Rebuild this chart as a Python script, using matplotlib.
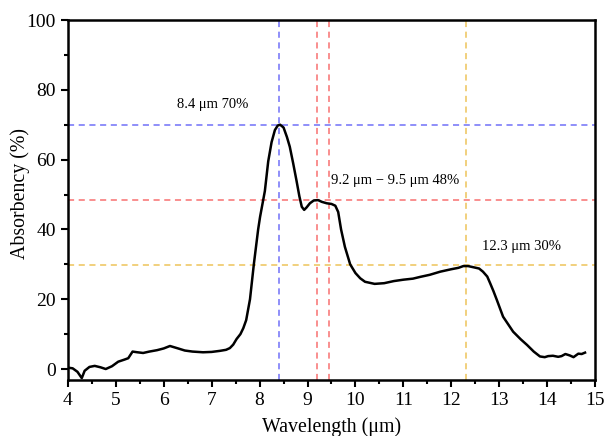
import matplotlib
matplotlib.use("Agg")
import matplotlib.pyplot as plt
from matplotlib.ticker import MultipleLocator

plt.rcParams['font.family'] = ['Liberation Serif', 'DejaVu Serif']
plt.rcParams['mathtext.fontset'] = 'stix'

# absorbency spectrum
wavelength = [4.0, 4.1, 4.2, 4.29, 4.35, 4.45, 4.56, 4.68, 4.79, 4.92, 5.05, 5.18, 5.26,
              5.35, 5.45, 5.57, 5.7, 5.86, 6.0, 6.13, 6.3, 6.44, 6.6, 6.82, 7.0, 7.17,
              7.3, 7.38, 7.45, 7.52, 7.6, 7.66, 7.72, 7.76, 7.8, 7.88, 7.97, 8.01, 8.11,
              8.18, 8.25, 8.32, 8.38, 8.43, 8.5, 8.57, 8.63, 8.7, 8.77, 8.83, 8.88, 8.93, 8.98,
              9.05, 9.13, 9.22, 9.3, 9.4, 9.5, 9.58, 9.64, 9.7, 9.78, 9.89, 10.0, 10.1,
              10.2, 10.4, 10.6, 10.8, 11.0, 11.2, 11.35, 11.55, 11.77, 12.0, 12.15, 12.25,
              12.35, 12.45, 12.58, 12.66, 12.75, 12.81, 12.88, 12.95, 13.08, 13.29, 13.45,
              13.58, 13.72, 13.85, 13.95, 14.02, 14.12, 14.23, 14.3, 14.38, 14.47, 14.55,
              14.65, 14.72, 14.79]
absorbency = [0.4, 0.2, -0.8, -2.6, -0.5, 0.6, 0.9, 0.5, 0.0, 0.8, 2.1, 2.7, 3.1,
              5.0, 4.8, 4.6, 5.0, 5.4, 5.9, 6.6, 5.9, 5.3, 5.0, 4.8, 4.9, 5.2,
              5.5, 6.0, 7.0, 8.6, 10.0, 11.7, 14.0, 17.0, 20.0, 30.0, 40.0, 43.6, 51.0,
              59.5, 65.0, 68.5, 69.8, 70.0, 69.2, 66.5, 63.7, 59.0, 54.0, 49.5, 46.5, 45.6, 46.3,
              47.5, 48.3, 48.4, 47.9, 47.5, 47.3, 46.8, 45.0, 40.0, 35.0, 30.0, 27.5, 26.0,
              25.0, 24.4, 24.6, 25.2, 25.6, 25.9, 26.4, 27.0, 27.9, 28.6, 29.0, 29.5,
              29.5, 29.2, 28.8, 27.9, 26.5, 24.6, 22.3, 19.8, 15.0, 10.7, 8.5,
              6.9, 5.0, 3.6, 3.4, 3.7, 3.8, 3.5, 3.7, 4.3, 3.9, 3.4,
              4.4, 4.3, 4.7]

# marker lines and their labels
peak_x = [8.4, 9.2, 9.45, 12.3]
peak_x_colors = ['#7070f8', '#f87070', '#f87070', '#eec45a']
level_y = [70, 48.5, 29.8]
level_colors = ['#7070f8', '#f87070', '#eec45a']
notes = ['8.4 μm 70%', '9.2 μm − 9.5 μm 48%', '12.3 μm 30%']
note_pos = [(7.03, 75.8), (9.49, 54.0), (12.64, 35.2)]
note_ha = ['center', 'left', 'left']

fig = plt.figure(figsize=(6.06, 4.36), dpi=100)
ax = fig.add_axes([0.112, 0.128, 0.87, 0.826])

for x, c in zip(peak_x, peak_x_colors):
    ax.axvline(x, color=c, lw=1.1, ls=(0, (4, 3)), zorder=1)
for y, c in zip(level_y, level_colors):
    ax.axhline(y, color=c, lw=1.1, ls=(0, (4, 3)), zorder=1)

ax.plot(wavelength, absorbency, color='black', lw=1.8, zorder=3)

for txt, (x, y), ha in zip(notes, note_pos, note_ha):
    ax.text(x, y, txt, fontsize=10.5, ha=ha, va='center')

ax.set_xlim(4, 15)
ax.set_ylim(-3.2, 100)
ax.xaxis.set_major_locator(MultipleLocator(1))
ax.xaxis.set_minor_locator(MultipleLocator(0.5))
ax.yaxis.set_major_locator(MultipleLocator(20))
ax.yaxis.set_minor_locator(MultipleLocator(10))
ax.tick_params(which='both', direction='out', width=1.5, labelsize=14, top=False, right=False)
ax.tick_params(which='major', length=5)
ax.tick_params(which='minor', length=3)
for s in ax.spines.values():
    s.set_linewidth(1.8)

ax.set_xlabel('Wavelength (μm)', fontsize=14.3, labelpad=6)
ax.set_ylabel('Absorbency (%)', fontsize=14.3)
ax.yaxis.set_label_coords(-0.072, 0.518)

fig.savefig('out.png', dpi=100)
